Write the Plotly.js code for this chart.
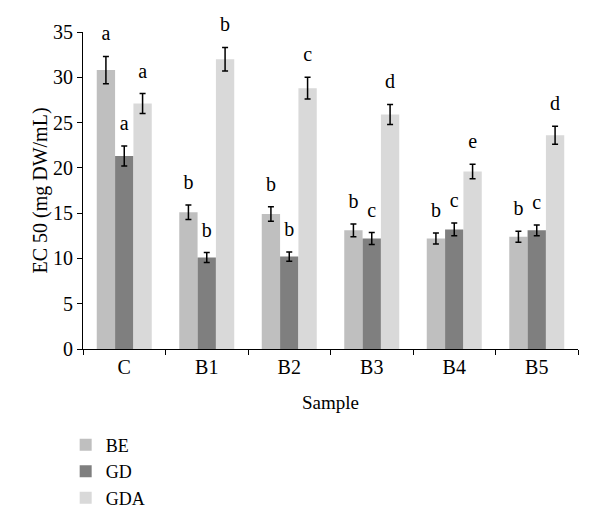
<!DOCTYPE html>
<html>
<head>
<meta charset="utf-8">
<script src="https://cdn.plot.ly/plotly-3.0.1.min.js"></script>
<style>html,body{margin:0;padding:0;background:#fff;}#chart{width:600px;height:526px;}</style>
</head>
<body>
<div id="chart"></div>
<script>
var categories = ["C", "B1", "B2", "B3", "B4", "B5"];
var seriesNames = ["BE", "GD", "GDA"];
var beValues = [30.8, 15.1, 14.9, 13.1, 12.2, 12.4];
var beErrors = [1.5, 0.8, 0.8, 0.7, 0.6, 0.6];
var beLetters = ["a", "b", "b", "b", "b", "b"];
var gdValues = [21.3, 10.1, 10.2, 12.2, 13.2, 13.1];
var gdErrors = [1.1, 0.55, 0.5, 0.65, 0.7, 0.6];
var gdLetters = ["a", "b", "b", "c", "c", "c"];
var gdaValues = [27.1, 32.0, 28.8, 25.9, 19.6, 23.6];
var gdaErrors = [1.1, 1.3, 1.2, 1.1, 0.8, 1.0];
var gdaLetters = ["a", "b", "c", "d", "e", "d"];
var colors = ["#bfbfbf", "#7f7f7f", "#d9d9d9"];

var values = [beValues, gdValues, gdaValues];
var errors = [beErrors, gdErrors, gdaErrors];
var letters = [beLetters, gdLetters, gdaLetters];
var serif = "Liberation Serif, Times New Roman, serif";

var data = [];
for (var i = 0; i < 3; i++) {
  data.push({
    type: "bar", name: seriesNames[i], x: categories, y: values[i],
    offsetgroup: String(i),
    marker: {color: colors[i], line: {width: 0}},
    error_y: {type: "data", array: errors[i], visible: true, color: "#000", thickness: 1.5, width: 3}
  });
}
for (var j = 0; j < 3; j++) {
  var tops = values[j].map(function (v, k) { return v + errors[j][k]; });
  data.push({
    type: "scatter", mode: "markers+text", x: categories, y: tops, text: letters[j],
    offsetgroup: String(j), showlegend: false, hoverinfo: "skip", cliponaxis: false,
    textposition: "top center",
    marker: {size: 16, color: "rgba(0,0,0,0)", line: {width: 0}},
    textfont: {family: serif, size: 20, color: "#000"}
  });
}

var layout = {
  width: 600, height: 526,
  margin: {l: 83, r: 22, t: 32, b: 177, autoexpand: false},
  paper_bgcolor: "#fff", plot_bgcolor: "#fff",
  barmode: "group", bargap: 1/3, bargroupgap: 0,
  scattermode: "group", scattergap: 1/3,
  font: {family: serif, size: 20, color: "#000"},
  xaxis: {
    automargin: false,
    showline: true, linecolor: "#000", linewidth: 1,
    ticks: "outside", tickson: "boundaries", ticklen: 5, tickcolor: "#000",
    tickfont: {family: serif, size: 20},
    title: {text: "Sample", font: {family: serif, size: 19}, standoff: 18},
    showgrid: false, zeroline: false
  },
  yaxis: {
    automargin: false,
    range: [0, 35], dtick: 5,
    showline: true, linecolor: "#000", linewidth: 1,
    ticks: "outside", ticklen: 5, tickcolor: "#000",
    tickfont: {family: serif, size: 20},
    title: {text: "EC 50 (mg DW/mL)", font: {family: serif, size: 20}, standoff: 0},
    showgrid: false, zeroline: false
  },
  showlegend: true,
  legend: {
    x: -0.035, xanchor: "left", y: -0.245, yanchor: "top",
    orientation: "v", font: {family: serif, size: 18},
    tracegroupgap: 0, itemwidth: 30
  }
};
Plotly.newPlot("chart", data, layout, {staticPlot: true});
</script>
</body>
</html>
